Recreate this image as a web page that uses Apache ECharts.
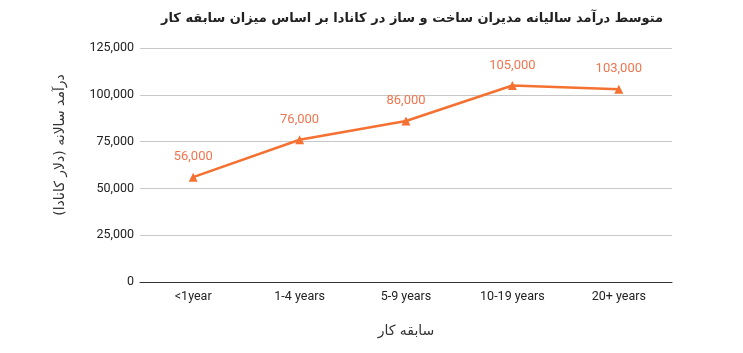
<!DOCTYPE html>
<html><head><meta charset="utf-8">
<script src="https://cdn.jsdelivr.net/npm/echarts@6/dist/echarts.min.js"></script>
<style>html,body{margin:0;padding:0;background:#fff}#c{width:743px;height:353px}</style>
</head><body><div id="c"></div>
<script>
const categories = ['<1year', '1-4 years', '5-9 years', '10-19 years', '20+ years'];
const incomes = [56000, 76000, 86000, 105000, 103000];
const titleText = 'متوسط درآمد سالیانه مدیران ساخت و ساز در کانادا بر اساس میزان سابقه کار';
const yName = 'درآمد سالانه (دلار کانادا)';
const xName = 'سابقه کار';

const chart = echarts.init(document.getElementById('c'));
chart.setOption({
  animation: false,
  title: {
    text: titleText, left: 407, top: 7, textAlign: 'center',
    textStyle: {fontFamily: 'DejaVu Sans', fontSize: 13, fontWeight: 'bold', color: '#222'}
  },
  graphic: [{
    type: 'text', x: 60, y: 145, rotation: Math.PI / 2,
    style: {text: yName, fontFamily: 'DejaVu Sans', fontSize: 14, fill: '#333', align: 'center', verticalAlign: 'middle'}
  }],
  grid: {left: 140, right: 71, top: 48, bottom: 71},
  xAxis: {
    type: 'category', data: categories,
    name: xName, nameLocation: 'middle', nameGap: 42,
    nameTextStyle: {fontFamily: 'DejaVu Sans', fontSize: 14, color: '#333'},
    axisLine: {lineStyle: {color: '#333', width: 1}},
    axisTick: {show: false},
    axisLabel: {fontFamily: 'Roboto', fontSize: 12.5, color: '#222', margin: 8}
  },
  yAxis: {
    type: 'value', min: 0, max: 125000, interval: 25000,
    axisLine: {show: false}, axisTick: {show: false},
    splitLine: {lineStyle: {color: '#c8c8c8'}},
    axisLabel: {fontFamily: 'Roboto', fontSize: 12.5, color: '#222', margin: 6,
      formatter: v => v.toLocaleString('en-US')}
  },
  series: [{
    type: 'line', data: incomes,
    symbol: 'triangle', symbolSize: 9,
    lineStyle: {color: '#f47132', width: 2.5},
    itemStyle: {color: '#f47132'},
    label: {show: true, position: 'top', distance: 9, fontFamily: 'Roboto', fontSize: 13, color: '#ee7650',
      formatter: p => p.value.toLocaleString('en-US')}
  }]
});
</script></body></html>
